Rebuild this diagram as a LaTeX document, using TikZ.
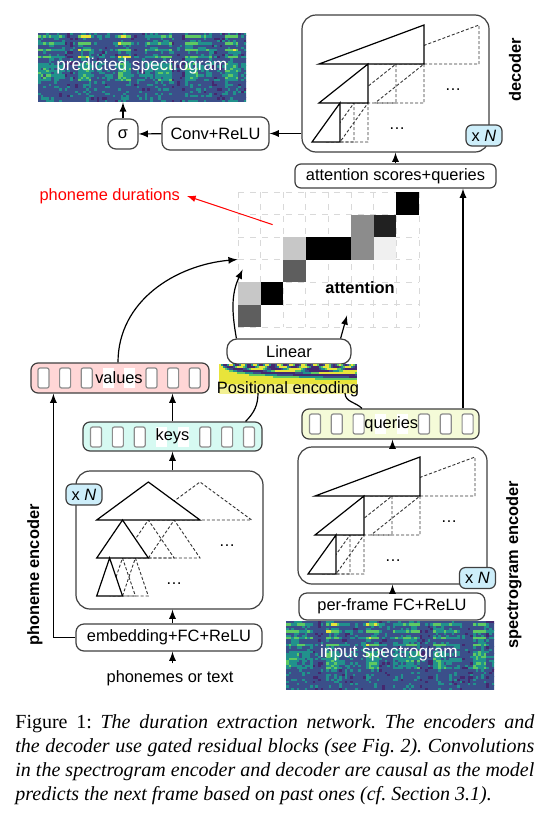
\documentclass[tikz,border=0pt]{standalone}
\usepackage{fontspec}
\setmainfont{Liberation Sans}
\newfontfamily\capfont{Liberation Serif}

% viridis 色
\definecolor{spc0}{HTML}{45286F}
\definecolor{spc1}{HTML}{3B4F8A}
\definecolor{spc2}{HTML}{21918C}
\definecolor{spc3}{HTML}{5EC962}
\definecolor{spc4}{HTML}{E8E43A}
\definecolor{valfill}{HTML}{FFD6D6}
\definecolor{keyfill}{HTML}{D6FAF2}
\definecolor{qryfill}{HTML}{F5FBD8}
\definecolor{nfill}{HTML}{CDEEFA}

% 频谱图 (左上角 #1,#2)
\newcommand{\specgram}[2]{%
  \begin{scope}
    \clip (#1,#2) rectangle ++(208,69);
    \foreach \i in {0,...,77}{
      \pgfmathsetmacro\g{0.5+0.5*sin(int(\i/5)*131+40)}
      \foreach \j in {0,...,29}{
        \pgfmathsetmacro\v{0.17+0.3*rnd+\g*ifthenelse(\j<13,ifthenelse(mod(\j,3)==1,0.5,0.1),ifthenelse(\j<21,0.32,0.08))}
        \pgfmathtruncatemacro\k{max(0,min(4,int(\v*4.4)))}
        \fill[spc\k] (#1+2.67*\i,#2+2.3*\j) rectangle ++(3,2.6);
      }
    }
  \end{scope}}

% 因果卷积
\newcommand{\causalconv}[1]{%
  \foreach \lx/\rx/\ty/\sh in {17/122/10/55, 17/66/49/56, 17/66/49/28, 10/38/88/28, 10/38/88/14}
    \draw[dashtri] (\lx+\sh,\ty+39) -- (\rx+\sh,\ty+39) -- (\rx+\sh,\ty) -- cycle;
  \foreach \lx/\rx/\ty in {17/122/10, 17/66/49, 10/38/88}
    \draw[soltri] (\lx,\ty+39) -- (\rx,\ty+39) -- (\rx,\ty) -- cycle;
  \node (#1a) at (151,75) {\dots};
  \node (#1b) at (95,114) {\dots};}

% 非因果卷积
\newcommand{\convtree}[1]{%
  \foreach \w/\ty/\sh in {103.3/11/51.65, 51.65/49/51.65, 51.65/49/25.8, 25.8/87/25.8, 25.8/87/12.9}
    \draw[dashtri] (20.7+\sh,\ty+38) -- (20.7+\sh+\w/2,\ty) -- (20.7+\sh+\w,\ty+38) -- cycle;
  \foreach \w/\ty in {103.3/11, 51.65/49, 25.8/87}
    \draw[soltri] (20.7,\ty+38) -- (20.7+\w/2,\ty) -- (20.7+\w,\ty+38) -- cycle;
  \node (#1a) at (151,75) {\dots};
  \node (#1b) at (98,113) {\dots};}

\begin{document}
\begin{tikzpicture}[x=0.5pt, y=-0.5pt,
    every node/.style={font=\fontsize{8.2}{10}\selectfont},
    box/.style={draw=black!75, line width=0.6pt, rounded corners=4pt, fill=white, inner sep=0pt},
    bigbox/.style={box, rounded corners=7pt},
    vec/.style={draw=black!75, line width=0.6pt, rounded corners=3.5pt, inner sep=0pt},
    cell/.style={draw=black!45, line width=0.6pt, fill=white, rounded corners=1pt},
    badge/.style={box, fill=nfill, rounded corners=3pt, minimum width=18pt, minimum height=10.5pt},
    sidelbl/.style={font=\fontsize{8.2}{10}\selectfont\bfseries, rotate=90},
    arr/.style={-latex, line width=0.6pt},
    soltri/.style={line width=0.6pt, fill=white},
    dashtri/.style={line width=0.45pt, dash pattern=on 1.5pt off 1pt, draw=black!80},
    grd/.style={draw=black!15, dashed, line width=0.4pt}]
  \fill[white] (0,0) rectangle (556,814);
  \useasboundingbox (0,0) rectangle (556,814);
  \pgfmathsetseed{11}

  % 预测频谱
  \node[inner sep=0, minimum width=104pt, minimum height=34.5pt] (pred) at (142,67.5) {};
  \specgram{38}{33}
  \node[text=white, font=\fontsize{8.6}{10}\selectfont] (predtxt) at (142,66) {predicted spectrogram};

  % 解码器
  \node[bigbox, minimum width=93.5pt, minimum height=68.5pt] (dec) at (395.5,83.5) {};
  \begin{scope}[shift={(302,15)}]
    \causalconv{dd}
  \end{scope}
  \node[badge] (decN) at (484,135.5) {x \textit{N}};
  \node[sidelbl] (declbl) at (515,70) {decoder};

  \node[box, minimum width=53.5pt, minimum height=16.5pt] (conv) at (215.5,133.5) {Conv+ReLU};
  \node[box, minimum width=15pt, minimum height=15pt] (sig) at (123,134) {σ};
  \draw[arr] (dec.west |- conv) -- (conv);
  \draw[arr] (conv) -- (sig);
  \draw[arr] (sig) -- (sig |- pred.south);

  \node[box, rounded corners=3pt, minimum width=100.5pt, minimum height=12pt] (score) at (395.5,176) {attention scores+queries};
  \draw[arr] (score) -- (dec);

  % 注意力矩阵
  \node[inner sep=0, minimum width=90.5pt, minimum height=67.5pt] (att) at (328.5,259.5) {};
  \foreach \c in {0,...,8}
    \draw[grd] (238+22.625*\c,192) -- ++(0,135);
  \foreach \r in {0,...,6}
    \draw[grd] (238,192+22.5*\r) -- ++(181,0);
  \foreach \c/\r/\d in {7/0/100, 5/1/45, 6/1/87, 2/2/22, 3/2/100, 4/2/100, 5/2/45, 6/2/6, 2/3/63, 0/4/22, 1/4/100, 0/5/63}
    \fill[black!\d] (238+22.625*\c,192+22.5*\r) rectangle ++(22.625,22.5);
  \node[font=\fontsize{8.2}{10}\selectfont\bfseries] (attlbl) at (360,288) {attention};

  \node[text=red, anchor=west] (dur) at (32.5,196) {phoneme durations};
  \draw[red, -latex, line width=0.5pt] ([xshift=17.5pt,yshift=-16.5pt]att.north west) -- (dur.east);

  % Linear 和位置编码
  \node[box, rounded corners=5pt, minimum width=62pt, minimum height=12.5pt] (lin) at (289,351.5) {Linear};
  \node[inner sep=0, minimum width=69pt, minimum height=15pt] (posimg) at (288,379) {};
  \foreach \i in {0,...,68}
    \foreach \j in {0,...,14}{
      \pgfmathsetmacro\v{0.5+0.5*cos(deg((2*\i+1)*0.52*exp(-0.57*\j)))}
      \pgfmathtruncatemacro\k{min(4,int(\v*5))}
      \ifnum\j>9
        \fill[spc\k!55!white] (219+2*\i,364+2*\j) rectangle ++(2.3,2.3);
      \else
        \fill[spc\k] (219+2*\i,364+2*\j) rectangle ++(2.3,2.3);
      \fi
    }
  \node[anchor=base] (pos) at (288,393) {Positional encoding};
  \draw[arr] ([xshift=5pt]lin.north west) to[out=100,in=-115] ([xshift=2.5pt,yshift=-5pt]att.west);
  \draw[arr] ([xshift=-5.5pt]lin.north east) -- ([xshift=9.25pt,yshift=6pt]att.south);

  % values
  \node[vec, fill=valfill, minimum width=89pt, minimum height=15pt] (vals) at (120,378) {};
  \foreach \k in {0,1,2,5,6,7}
    \draw[cell] (38+21.6*\k,368) rectangle ++(11,20);
  \foreach \k in {3,4}
    \fill[white] (38+21.6*\k,368) rectangle ++(11,20);
  \node (valtxt) at (119,378) {values};
  \draw[arr] ([xshift=-1pt]vals.north) to[out=90,in=185] (att.west);

  % keys
  \node[vec, fill=keyfill, minimum width=89.5pt, minimum height=14.5pt] (keys) at (172.5,436.5) {};
  \foreach \k in {0,1,2,5,6,7}
    \draw[cell] (90.5+21.85*\k,427) rectangle ++(11,20);
  \foreach \k in {3,4}
    \fill[white] (90.5+21.85*\k,427) rectangle ++(11,20);
  \node (keytxt) at (172.5,436.5) {keys};
  \draw[arr] (keys.north) -- (keys.north |- vals.south);
  \draw[line width=0.6pt] ([xshift=-8.5pt]keys.north east) to[out=45,in=-90] ([xshift=-15pt]pos.base);

  % queries
  \node[vec, fill=qryfill, minimum width=88.5pt, minimum height=15pt] (qry) at (390.5,424) {};
  \foreach \k in {0,1,2,5,6,7}
    \draw[cell] (309.5+21.8*\k,414) rectangle ++(11,20);
  \foreach \k in {3,4}
    \fill[white] (309.5+21.8*\k,414) rectangle ++(11,20);
  \node (qrytxt) at (391.3,424) {queries};
  \draw[line width=0.6pt] ([xshift=-14.25pt]qry.north) to[out=135,in=-90] ([xshift=28.5pt]pos.base);
  \draw[arr] ([xshift=36.25pt]qry.north) -- ([xshift=36.25pt]qry.north |- score.south);

  % 音素编码器
  \node[bigbox, minimum width=93.5pt, minimum height=69pt] (penc) at (169.5,540) {};
  \begin{scope}[shift={(76,471)}]
    \convtree{pe}
  \end{scope}
  \node[badge] (pencN) at (84,494.5) {x \textit{N}};
  \node[sidelbl] (penclbl) at (35,575) {phoneme encoder};
  \draw[arr] (keys.south |- penc.north) -- (keys.south);

  \node[box, minimum width=93pt, minimum height=13.5pt] (emb) at (169,637.5) {embedding+FC+ReLU};
  \node (txt) at (170,678) {phonemes or text};
  \draw[arr] (keys.south |- txt.north) -- (keys.south |- emb.south);
  \draw[arr] (keys.south |- emb.north) -- (keys.south |- penc.south);
  \draw[arr] (emb.west) -| ([xshift=11.5pt]vals.south west);

  % 频谱编码器
  \node[bigbox, minimum width=94.5pt, minimum height=68.5pt] (senc) at (392.5,515.5) {};
  \begin{scope}[shift={(298,447)}]
    \causalconv{se}
  \end{scope}
  \node[badge] (sencN) at (477.5,578) {x \textit{N}};
  \node[sidelbl] (senclbl) at (514,565) {spectrogram encoder};
  \draw[arr] (senc.north) -- (senc.north |- qry.south);

  \node[box, minimum width=93pt, minimum height=13.5pt] (ffc) at (392,606.5) {per-frame FC+ReLU};
  \draw[arr] (senc.south |- ffc.north) -- (senc.south);

  % 输入频谱
  \node[inner sep=0, minimum width=104pt, minimum height=34pt] (inp) at (390,655) {};
  \specgram{286}{621}
  \node[text=white, font=\fontsize{8.6}{10}\selectfont] (inptxt) at (389,653) {input spectrogram};

  % 图注
  \node[anchor=north west, inner sep=0, text width=259.5pt, align=justify,
        font=\capfont\fontsize{10}{12}\selectfont\frenchspacing] (cap) at (15,714)
    {Figure 1: \textit{The duration extraction network. The encoders and\linebreak
     the decoder use gated residual blocks (see Fig.~2). Convolutions\linebreak
     in the spectrogram encoder and decoder are causal as the model\linebreak
     predicts the next frame based on past ones (cf.\ Section 3.1).}};
\end{tikzpicture}
\end{document}
